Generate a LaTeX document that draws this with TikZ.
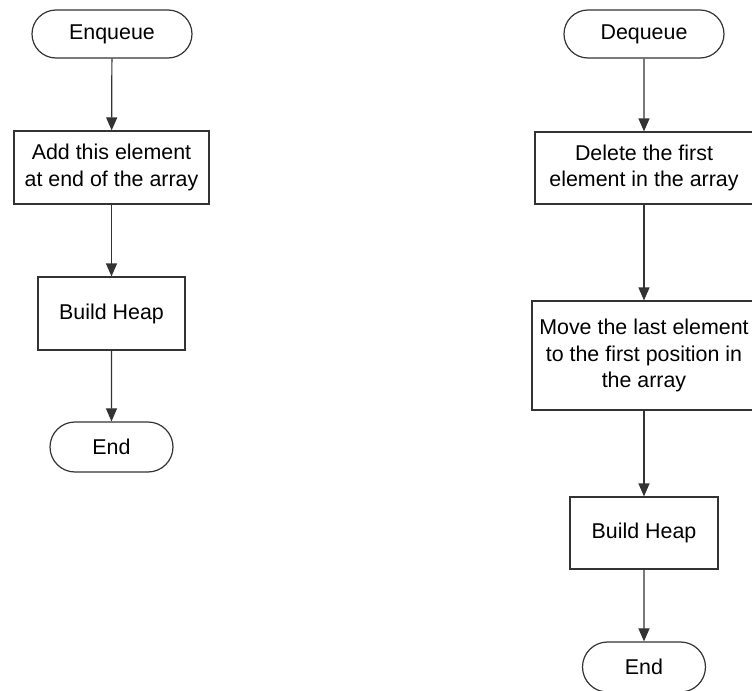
\documentclass[tikz,border=0pt]{standalone}
\usepackage{fontspec}
\setmainfont{Liberation Sans}
\usetikzlibrary{arrows.meta,shapes.misc}
\begin{document}
\begin{tikzpicture}[x=0.5pt,y=-0.5pt,
  every node/.style={font=\fontsize{10.7pt}{13.3pt}\selectfont, align=center, inner sep=0pt, line width=0.6pt, draw=black!80},
  term/.style={rounded rectangle, minimum height=24pt},
  proc/.style={rectangle},
  conn/.style={draw=black!80, line width=0.6pt, -{Triangle[width=5.5pt,length=6.5pt]}}]
\useasboundingbox (0,0) rectangle (752,691);
% Enqueue column
\node[term, minimum width=80pt] (enq) at (112,34) {Enqueue};
\node[proc, minimum width=97.5pt, minimum height=36.5pt] (add) at (111.5,167.5) {Add this element\\at end of the array};
\node[proc, minimum width=73.5pt, minimum height=36.5pt] (bh1) at (111.5,313.5) {Build Heap};
\node[term, minimum width=61.5pt, minimum height=25pt] (end1) at (111.5,447) {End};
\draw[conn] (enq) -- (add);
\draw[conn] (add) -- (bh1);
\draw[conn] (bh1) -- (end1);
% Dequeue column
\node[term, minimum width=80pt] (deq) at (644,34) {Dequeue};
\node[proc, minimum width=109pt, minimum height=36pt] (del) at (644,168) {Delete the first\\element in the array};
\node[proc, minimum width=112pt, minimum height=54.5pt] (mov) at (644,355.5) {Move the last element\\to the first position in\\the array};
\node[proc, minimum width=74pt, minimum height=36pt] (bh2) at (644,533) {Build Heap};
\node[term, minimum width=61.5pt, minimum height=25pt] (end2) at (644,667) {End};
\draw[conn] (deq) -- (del);
\draw[conn] (del) -- (mov);
\draw[conn] (mov) -- (bh2);
\draw[conn] (bh2) -- (end2);
\end{tikzpicture}
\end{document}
